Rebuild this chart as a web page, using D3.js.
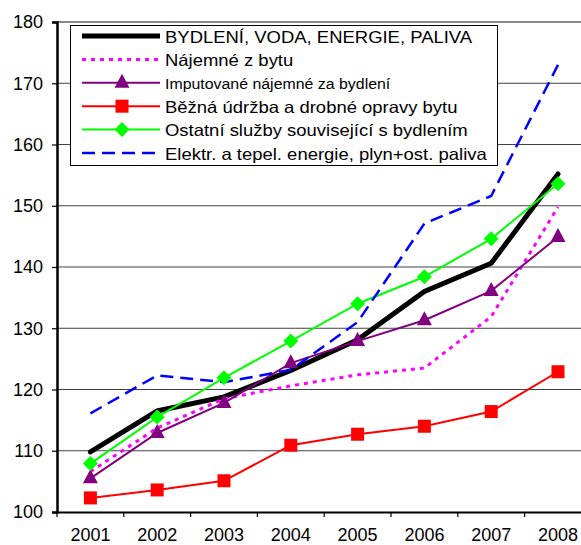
<!DOCTYPE html>
<html>
<head>
<meta charset="utf-8">
<script src="https://cdn.jsdelivr.net/npm/d3@7"></script>
<style>
  html, body { margin: 0; padding: 0; background: #fff; }
  svg { display: block; font-family: "Liberation Sans", Arial, sans-serif; }
</style>
</head>
<body>
<svg id="chart" width="581" height="545"></svg>
<script>
// Housing price indices by year
const years = ["2001", "2002", "2003", "2004", "2005", "2006", "2007", "2008"];
const yTicks = [100, 110, 120, 130, 140, 150, 160, 170, 180];

const bydleni      = [109.8, 116.5, 118.8, 123.1, 128.1, 136.0, 140.6, 155.2];
const najemne      = [106.6, 113.7, 118.5, 120.6, 122.4, 123.5, 131.9, 149.8];
const imputovane   = [105.5, 112.9, 117.8, 124.3, 127.9, 131.3, 136.1, 144.9];
const udrzba       = [102.3, 103.6, 105.1, 110.9, 112.7, 114.0, 116.4, 122.9];
const ostatni      = [107.9, 115.5, 121.9, 127.9, 134.0, 138.4, 144.6, 153.6];
const energie      = [116.1, 122.3, 121.2, 123.2, 131.0, 147.1, 151.6, 173.0];

const series = [
  { name: "BYDLENÍ, VODA, ENERGIE, PALIVA", values: bydleni, color: "#000000", width: 5, dash: null, marker: null, fontSize: 16.5 },
  { name: "Nájemné z bytu", values: najemne, color: "#FF00FF", width: 3, dash: "4,5", marker: null, fontSize: 16.5 },
  { name: "Imputované nájemné za bydlení", values: imputovane, color: "#800080", width: 2, dash: null, marker: "triangle", fontSize: 14.2 },
  { name: "Běžná údržba a drobné opravy bytu", values: udrzba, color: "#FF0000", width: 2, dash: null, marker: "square", fontSize: 16.5 },
  { name: "Ostatní služby související s bydlením", values: ostatni, color: "#00FF00", width: 2, dash: null, marker: "diamond", fontSize: 16.5 },
  { name: "Elektr. a tepel. energie, plyn+ost. paliva", values: energie, color: "#0000FF", width: 2.5, dash: "13,7", marker: null, fontSize: 16.5 }
];

const svg = d3.select("#chart");
const plotLeft = 57, plotTop = 22, plotBottom = 512, bandW = 66.8;

const x = d3.scaleBand().domain(years).range([plotLeft, plotLeft + bandW * years.length]).padding(0);
const y = d3.scaleLinear().domain([100, 180]).range([plotBottom, plotTop]);
const cx = d => x(d) + x.bandwidth() / 2;

// Horizontal gridlines
svg.append("g").selectAll("line")
  .data(yTicks.filter(t => t > 100))
  .join("line")
  .attr("x1", plotLeft).attr("x2", 581)
  .attr("y1", d => y(d)).attr("y2", d => y(d))
  .attr("stroke", d => d === 180 ? "#888" : "#404040")
  .attr("stroke-width", d => d === 180 ? 2 : 1);

// Y axis
const yAxis = svg.append("g")
  .attr("transform", `translate(${plotLeft},0)`)
  .call(d3.axisLeft(y).tickValues(yTicks).tickSize(5).tickPadding(9).tickFormat(d3.format("d")));
yAxis.select(".domain").attr("stroke", "#000").attr("stroke-width", 2.5);
yAxis.selectAll(".tick line").attr("stroke", "#000").attr("stroke-width", 1.2);
yAxis.selectAll("text").attr("font-size", 18).attr("fill", "#000")
  .attr("font-family", "'Liberation Sans', Arial, sans-serif");

// X axis
const xAxis = svg.append("g")
  .attr("transform", `translate(0,${plotBottom})`)
  .call(d3.axisBottom(x).tickSize(0).tickPadding(16.2));
xAxis.select(".domain").attr("stroke", "#000").attr("stroke-width", 2);
xAxis.selectAll("text").attr("font-size", 18).attr("fill", "#000")
  .attr("font-family", "'Liberation Sans', Arial, sans-serif");
// Category boundary ticks
xAxis.append("g").selectAll("line")
  .data(years)
  .join("line")
  .attr("x1", d => x(d)).attr("x2", d => x(d))
  .attr("y1", 0).attr("y2", 5)
  .attr("stroke", "#000").attr("stroke-width", 1.2);

// Series lines
const line = d3.line().x((v, i) => cx(years[i])).y(v => y(v));
const plot = svg.append("g");
series.forEach(s => {
  plot.append("path")
    .attr("d", line(s.values))
    .attr("fill", "none")
    .attr("stroke", s.color)
    .attr("stroke-width", s.width)
    .attr("stroke-dasharray", s.dash)
    .attr("stroke-linejoin", "miter")
    .attr("stroke-linecap", s.width >= 5 ? "round" : "butt");
});

// Marker shapes
function drawMarker(g, type, px, py, color) {
  if (type === "square") {
    g.append("rect").attr("x", px - 6.5).attr("y", py - 6.5).attr("width", 13).attr("height", 13).attr("fill", color);
  } else if (type === "diamond") {
    g.append("path").attr("d", `M${px},${py - 7.5}L${px + 7.5},${py}L${px},${py + 7.5}L${px - 7.5},${py}Z`).attr("fill", color);
  } else if (type === "triangle") {
    g.append("path").attr("d", `M${px},${py - 9}L${px + 7.5},${py + 5}L${px - 7.5},${py + 5}Z`).attr("fill", color);
  }
}
series.forEach(s => {
  if (!s.marker) return;
  const g = plot.append("g");
  s.values.forEach((v, i) => drawMarker(g, s.marker, cx(years[i]), y(v), s.color));
});

// Legend
const lg = svg.append("g");
lg.append("rect").attr("x", 70.5).attr("y", 25.5).attr("width", 427).attr("height", 140)
  .attr("fill", "#fff").attr("stroke", "#000").attr("stroke-width", 1);
series.forEach((s, i) => {
  const ly = 36 + i * 23.4;
  lg.append("line").attr("x1", 82).attr("x2", 160).attr("y1", ly).attr("y2", ly)
    .attr("stroke", s.color).attr("stroke-width", s.width).attr("stroke-dasharray", s.dash);
  if (s.marker) drawMarker(lg, s.marker, 122, ly, s.color);
  // legend labels are set slightly wide
  lg.append("text")
    .attr("transform", `translate(165,${ly + 6.5}) scale(1.12,1)`)
    .attr("font-size", s.fontSize).attr("fill", "#000").text(s.name);
});
</script>
</body>
</html>
